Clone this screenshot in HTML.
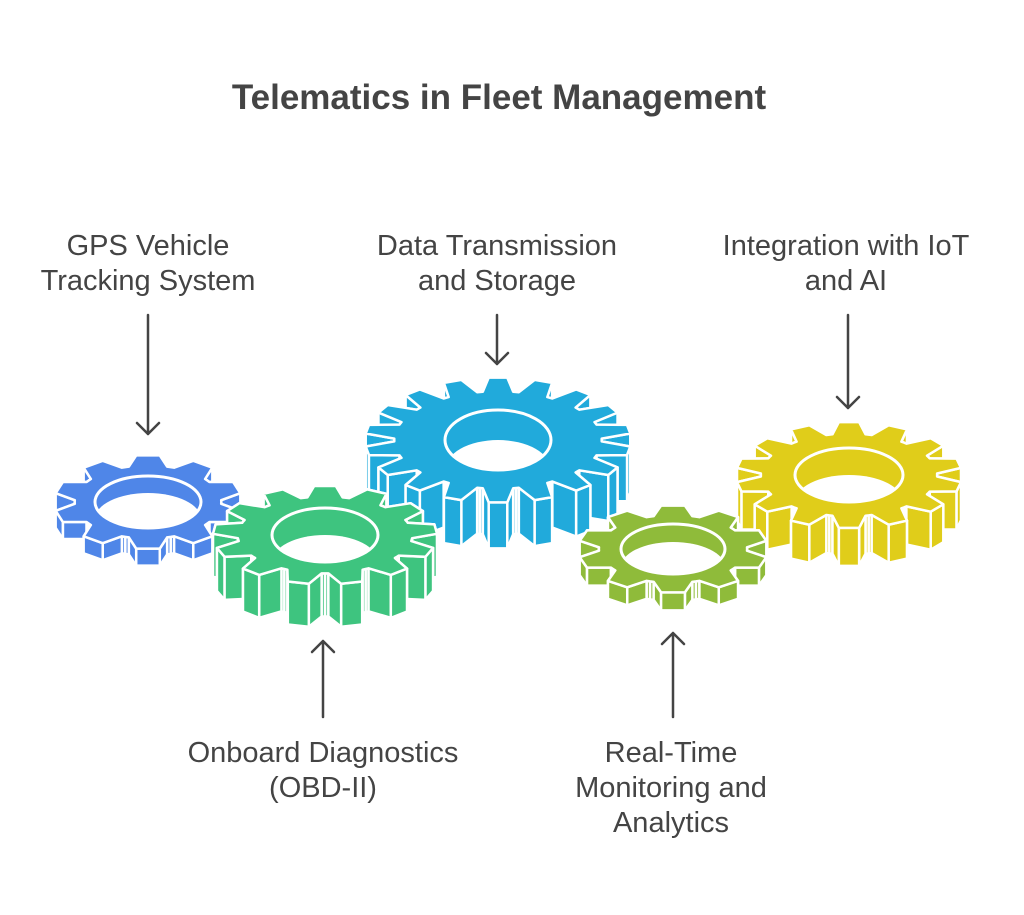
<!DOCTYPE html>
<html><head><meta charset="utf-8"><style>
html,body{margin:0;padding:0;background:#fff;}
body{width:1024px;height:910px;overflow:hidden;}
text{font-family:"Liberation Sans",sans-serif;fill:#444;}
</style></head><body>
<svg id="s" width="1024" height="910" viewBox="0 0 1024 910" xmlns="http://www.w3.org/2000/svg">
<text x="499" y="109" font-size="35" font-weight="bold" text-anchor="middle" fill="#444">Telematics in Fleet Management</text>
<g font-size="29" text-anchor="middle">
<text x="148" y="255">GPS Vehicle</text><text x="148" y="290">Tracking System</text>
<text x="497" y="255">Data Transmission</text><text x="497" y="290">and Storage</text>
<text x="846" y="255">Integration with IoT</text><text x="846" y="290">and AI</text>
<text x="323" y="762">Onboard Diagnostics</text><text x="323" y="797">(OBD-II)</text>
<text x="671" y="762">Real-Time</text><text x="671" y="797">Monitoring and</text><text x="671" y="832">Analytics</text>
</g>
<g id="gears"></g>
<g stroke="#444" stroke-width="2.5" fill="none" stroke-linecap="round" stroke-linejoin="round">
<path d="M148 315V434M137 423L148 434L159 423"/>
<path d="M497 315V364M486 353L497 364L508 353"/>
<path d="M848 315V408M837 397L848 408L859 397"/>
<path d="M323 717V641M312 652L323 641L334 652"/>
<path d="M673 717V633M662 644L673 633L684 644"/>
</g>
</svg>
<script>
var NS="http://www.w3.org/2000/svg";
var G=document.getElementById("gears");
function el(t,a,p){var e=document.createElementNS(NS,t);for(var k in a)e.setAttribute(k,a[k]);(p||G).appendChild(e);return e;}
var gears=[
 {cx:498,cy:440,R:133,N:18,k:0.47,d:46,c:"#21aadb",hx:53,hy:30},
 {cx:849,cy:475,R:113,N:14,k:0.47,d:38,c:"#e0cd1a",hx:54,hy:27},
 {cx:148,cy:502,R:94,N:10,k:0.5,d:17,c:"#4f86e8",hx:53,hy:26},
 {cx:325,cy:535,R:112,N:13,k:0.44,d:43,c:"#3ec47f",hx:53,hy:27},
 {cx:673,cy:549,R:95,N:10,k:0.46,d:18,c:"#8fbb3a",hx:52,hy:25}
];
gears.forEach(function(g,gi){
 var pts=[],p=2*Math.PI/g.N,r0=g.R*0.78,off=-Math.PI/2-p*0.5;
 for(var i=0;i<g.N;i++){
  var a=off+i*p;
  [[a,r0],[a+0.08*p,r0],[a+0.3*p,g.R],[a+0.7*p,g.R],[a+0.92*p,r0]].forEach(function(q){pts.push([g.cx+q[1]*Math.cos(q[0]),g.cy+q[1]*g.k*Math.sin(q[0])]);});
 }
 var grp=el("g",{});
 var quads=[];
 for(var i=0;i<pts.length;i++){
  var A=pts[i],B=pts[(i+1)%pts.length];
  quads.push([A,B,(A[1]+B[1])/2]);
 }
 quads.sort(function(a,b){return a[2]-b[2];});
 quads.forEach(function(q){
  var A=q[0],B=q[1];
  el("polygon",{points:A[0]+","+A[1]+" "+B[0]+","+B[1]+" "+B[0]+","+(B[1]+g.d)+" "+A[0]+","+(A[1]+g.d),fill:g.c,stroke:"#fff","stroke-width":2.5,"stroke-linejoin":"round"},grp);
 });
 el("polygon",{points:pts.map(function(q){return q[0].toFixed(1)+","+q[1].toFixed(1);}).join(" "),fill:g.c,stroke:"#fff","stroke-width":2.5,"stroke-linejoin":"round"},grp);
 var cp=el("clipPath",{id:"h"+gi},grp);
 el("ellipse",{cx:g.cx,cy:g.cy,rx:g.hx,ry:g.hy},cp);
 el("ellipse",{cx:g.cx,cy:g.cy,rx:g.hx,ry:g.hy,fill:g.c},grp);
 el("ellipse",{cx:g.cx,cy:g.cy+Math.min(g.d,g.hy*1.0),rx:g.hx,ry:g.hy,fill:"#fff","clip-path":"url(#h"+gi+")"},grp);
 el("ellipse",{cx:g.cx,cy:g.cy,rx:g.hx,ry:g.hy,fill:"none",stroke:"#fff","stroke-width":3},grp);
});
</script>
</body></html>
